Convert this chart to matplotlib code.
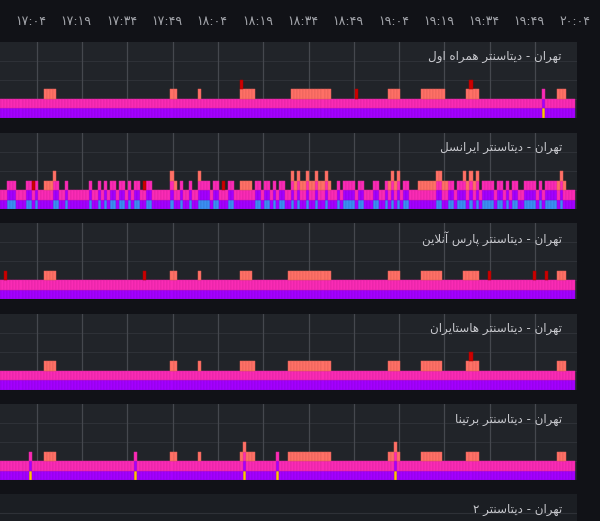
import numpy as np
import matplotlib
matplotlib.use("Agg")
import matplotlib.pyplot as plt
from matplotlib.transforms import ScaledTranslation

# one bar per minute, slot 0 starts a little before 17:04
slots = np.arange(-1, 190)
grid_x = [11.7 + 15 * k for k in range(12)]
tick_x = grid_x + [grid_x[-1] + 15]
tick_times = ["17:04", "17:19", "17:34", "17:49", "18:04", "18:19", "18:34",
              "18:49", "19:04", "19:19", "19:34", "19:49", "20:04"]

titles = [
    "تهران - دیتاسنتر همراه اول",
    "تهران - دیتاسنتر ایرانسل",
    "تهران - دیتاسنتر پارس آنلاین",
    "تهران - دیتاسنتر هاستایران",
    "تهران - دیتاسنتر برتینا",
    "تهران - دیتاسنتر ۲",
]

# slots where each series has a value of 1 (purple and pink are 1 everywhere)
p1_yellow = [179]
p1_blue = []
p1_salmon = [*range(14, 18), 56, 57, 65, *range(79, 84), *range(96, 109),
             *range(128, 132), *range(139, 147), *range(154, 158), *range(184, 187)]
p1_red = [79, 117, 155]

p2_yellow = []
p2_blue = [2, 3, 4, 8, 9, 11, 17, 18, 21, 29, 32, 34, 36, 37, 39, 40, 42, 44, 45,
           48, 49, 56, 59, 62, 65, 66, 67, 68, 70, 71, 75, 76, 84, 85, 87, 88, 90,
           92, 93, 96, 98, 101, 104, 107, 111, 113, 114, 115, 116, 118, 119, 123,
           124, 127, 129, 131, 133, 134, 144, 145, 148, 149, 151, 152, 153, 155,
           157, 159, 160, 161, 162, 164, 165, 167, 169, 170, 173, 174, 175, 176,
           178, 180, 181, 182, 183, 185]
p2_salmon = [*range(14, 18), 56, 57, 65, *range(79, 83), *range(96, 109),
             *range(128, 132), *range(138, 148), *range(153, 158), *range(184, 187)]
p2_red = [10, 47, 73]

p3_yellow = []
p3_blue = []
p3_salmon = [*range(14, 18), 56, 57, 65, *range(79, 83), *range(95, 109),
             *range(128, 132), *range(139, 146), *range(153, 158), *range(184, 187)]
p3_red = [1, 47, 161, 176, 180]

p4_yellow = []
p4_blue = []
p4_salmon = [*range(14, 18), 56, 57, 65, *range(79, 84), *range(95, 109),
             *range(128, 132), *range(139, 146), *range(154, 158), *range(184, 187)]
p4_red = [155]

p5_yellow = [9, 44, 80, 91, 130]
p5_blue = []
p5_salmon = [*range(14, 18), 56, 57, 65, *range(79, 84), *range(95, 109),
             *range(128, 132), *range(139, 146), *range(154, 158), *range(184, 187)]
p5_red = []

panels = [
    (p1_yellow, p1_blue, p1_salmon, p1_red),
    (p2_yellow, p2_blue, p2_salmon, p2_red),
    (p3_yellow, p3_blue, p3_salmon, p3_red),
    (p4_yellow, p4_blue, p4_salmon, p4_red),
    (p5_yellow, p5_blue, p5_salmon, p5_red),
]

# stacking order, bottom to top: (fill, edge)
colors = {
    "yellow": ("#ffc800", "#d89400"),
    "blue": ("#3b8ff2", "#3279d2"),
    "purple": ("#a400ff", "#8d00dc"),
    "pink": ("#fa2bb5", "#dc22a0"),
    "salmon": ("#ff7066", "#e25f56"),
    "red": ("#cc0000", "#a50000"),
}

FIG_BG = "#111217"
PANEL_BG = "#212429"

# crude arabic shaping: isolated, final, initial, medial
JOIN = {
    "ا": ("\ufe8d", "\ufe8e", None, None),
    "آ": ("\ufe81", "\ufe82", None, None),
    "ب": ("\ufe8f", "\ufe90", "\ufe91", "\ufe92"),
    "پ": ("\ufb56", "\ufb57", "\ufb58", "\ufb59"),
    "ت": ("\ufe95", "\ufe96", "\ufe97", "\ufe98"),
    "د": ("\ufea9", "\ufeaa", None, None),
    "ر": ("\ufead", "\ufeae", None, None),
    "س": ("\ufeb1", "\ufeb2", "\ufeb3", "\ufeb4"),
    "ل": ("\ufedd", "\ufede", "\ufedf", "\ufee0"),
    "م": ("\ufee1", "\ufee2", "\ufee3", "\ufee4"),
    "ن": ("\ufee5", "\ufee6", "\ufee7", "\ufee8"),
    "ه": ("\ufee9", "\ufeea", "\ufeeb", "\ufeec"),
    "و": ("\ufeed", "\ufeee", None, None),
    "ی": ("\ufbfc", "\ufbfd", "\ufbfe", "\ufbff"),
}
LAM_ALEF = {"ا": ("\ufefb", "\ufefc"), "آ": ("\ufef5", "\ufef6")}


def shape_rtl(text):
    out = []
    i = 0
    while i < len(text):
        c = text[i]
        if c not in JOIN:
            out.append(c)
            i += 1
            continue
        prev = text[i - 1] if i > 0 else ""
        joins_prev = prev in JOIN and JOIN[prev][2] is not None
        nxt = text[i + 1] if i + 1 < len(text) else ""
        if c == "ل" and nxt in LAM_ALEF:
            out.append(LAM_ALEF[nxt][1 if joins_prev else 0])
            i += 2
            continue
        joins_next = JOIN[c][2] is not None and nxt in JOIN
        iso, fin, ini, med = JOIN[c]
        if joins_prev and joins_next:
            out.append(med)
        elif joins_prev:
            out.append(fin)
        elif joins_next:
            out.append(ini)
        else:
            out.append(iso)
        i += 1
    return "".join(reversed(out))


def fa_digits(s):
    return s.translate(str.maketrans("0123456789", "۰۱۲۳۴۵۶۷۸۹"))


W, H = 600, 521
fig = plt.figure(figsize=(W / 100, H / 100), dpi=100, facecolor=FIG_BG)
tops = [41.7, 133.0, 223.3, 313.5, 404.0, 494.3]
panel_h = 76.0
panel_w = 577.0
x_lo, x_hi = -0.45, 190.6
px_per_min = panel_w / (x_hi - x_lo)

axes = []
for k, top in enumerate(tops):
    ax = fig.add_axes([0, 1 - (top + panel_h) / H, panel_w / W, panel_h / H])
    ax.set_facecolor(PANEL_BG if k < 5 else "#1b1e23")
    ax.set_xlim(x_lo, x_hi)
    ax.set_ylim(0, 8)
    for s in ax.spines.values():
        s.set_visible(False)
    ax.set_yticks([])
    ax.set_xticks([])
    for y in (2, 4, 6):
        ax.axhline(y, color="#2e3137", lw=0.8, zorder=0)
    if k < 5:
        for gx in grid_x:
            ax.axvline(gx, color="#45484e", lw=0.9, zorder=0)
    ax.text(562 / panel_w, 1 - 15 / panel_h, shape_rtl(titles[k]),
            transform=ax.transAxes, ha="right", va="center",
            fontsize=8.6, color="#c8c9ce", family="DejaVu Sans")
    axes.append(ax)

for ax, (yellow, blue, salmon, red) in zip(axes, panels):
    series = [
        ("yellow", yellow),
        ("blue", blue),
        ("purple", list(slots)),
        ("pink", list(slots)),
        ("salmon", salmon),
        ("red", red),
    ]
    bottom = np.zeros(len(slots))
    for name, members in series:
        vals = np.isin(slots, members).astype(float)
        on = vals > 0
        if on.any():
            fc, ec = colors[name]
            ax.bar(slots[on], vals[on], width=1.0, align="edge", bottom=bottom[on],
                   color=fc, edgecolor=ec, linewidth=0.35, zorder=2)
        bottom += vals

# time labels along the top, on a full-width strip sharing the minute scale
lab_ax = fig.add_axes([0, 1 - tops[0] / H, 1, 0.0001])
lab_ax.set_xlim(x_lo, x_lo + W / px_per_min)
lab_ax.patch.set_visible(False)
for s in lab_ax.spines.values():
    s.set_visible(False)
lab_ax.set_yticks([])
lab_ax.xaxis.set_ticks_position("top")
lab_ax.set_xticks(tick_x)
lab_ax.set_xticklabels([fa_digits(t) for t in tick_times],
                       fontsize=9, color="#a3a5ab", family="DejaVu Sans")
lab_ax.tick_params(axis="x", length=0, pad=9.5)
shift = ScaledTranslation(-5.7 / 100, 0, fig.dpi_scale_trans)
for lab in lab_ax.get_xticklabels():
    lab.set_transform(lab.get_transform() + shift)

fig.savefig("out.png", dpi=100, facecolor=FIG_BG)
